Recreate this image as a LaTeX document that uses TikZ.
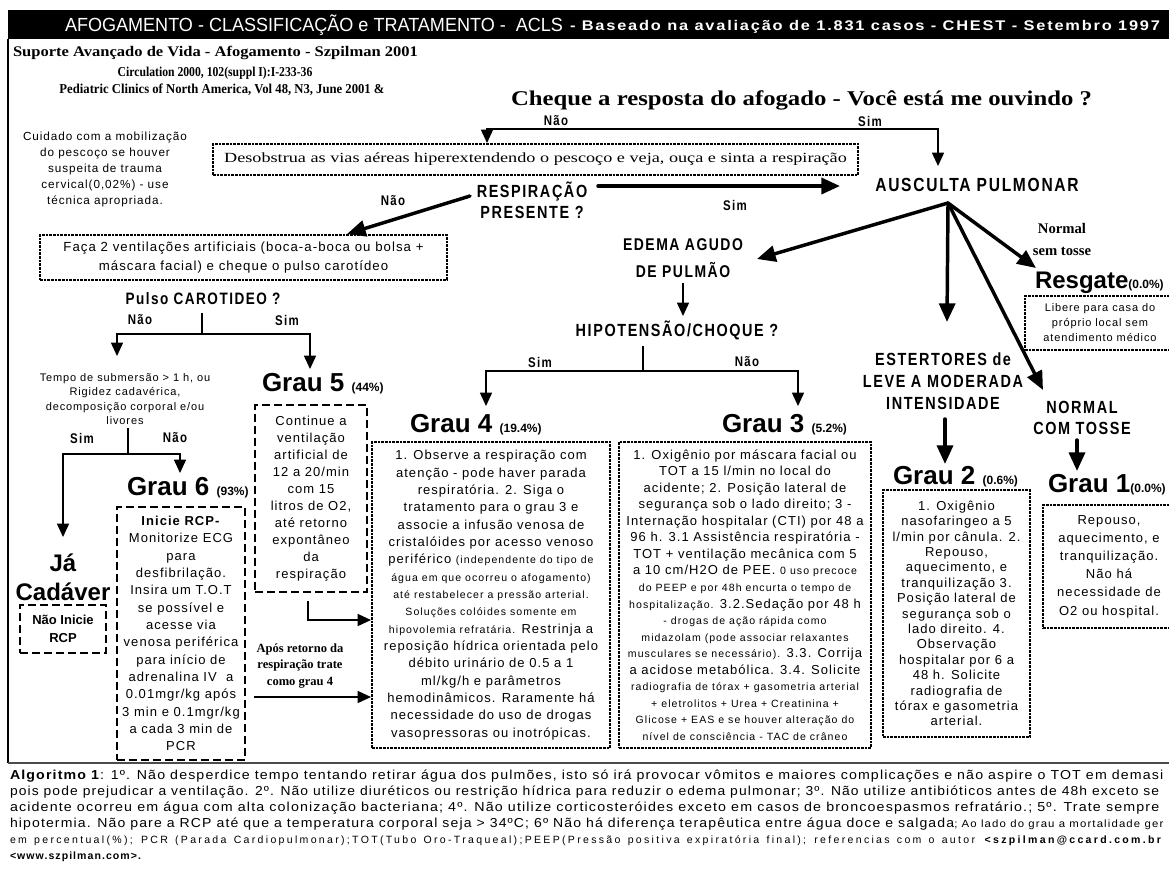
\documentclass[tikz,border=0pt]{standalone}
\usepackage{fontspec}
\usetikzlibrary{arrows.meta}
\setmainfont{Liberation Sans}
\newfontfamily\ars[LetterSpace=8]{Liberation Sans}
\newfontfamily\arsm[LetterSpace=10]{Liberation Sans}
\newfontfamily\arsw[LetterSpace=22]{Liberation Sans}
\newfontfamily\arn[FakeStretch=0.82,LetterSpace=9]{Liberation Sans}
\newfontfamily\tms{Liberation Serif}
\newfontfamily\tmn[FakeStretch=0.86]{Liberation Serif}
\newcommand\fs[2]{\fontsize{#1}{#2}\selectfont}
\newcommand\smf{\arsm\fontsize{7.9pt}{9pt}\selectfont}
\newcommand\pct[1]{{\fontsize{9pt}{10pt}\selectfont\bfseries #1}}
\tikzset{
  every node/.style={inner sep=0pt, outer sep=0pt},
  thinln/.style={line width=1.1pt},
  tarr/.style={line width=1.1pt, line cap=rect, -{Triangle[length=10pt,width=9pt]}},
  karr/.style={line width=2.6pt, line cap=round, -{Triangle[length=14pt,width=12pt]}},
  dotbox/.style={draw, line width=0.8pt, dash pattern=on 2pt off 0.75pt},
  dashbox/.style={draw, line width=1.5pt, dash pattern=on 6pt off 3pt},
  lab/.style={font=\arn\bfseries\fs{10.5}{12}},
  biglab/.style={align=center, font=\arn\bfseries\fs{12.75}{15}},
  grau/.style={anchor=west, font=\bfseries\fs{19.5}{22}},
  body/.style={align=center, font=\ars\fs{9.75}{13}},
}
\begin{document}
\begin{tikzpicture}[x=0.75pt,y=-0.75pt]
\useasboundingbox (0,0) rectangle (1169,876);
% title bar
\fill[black] (8,10) rectangle (1169,39);
\node[anchor=west, text=white] (title) at (65,25) {\resizebox{373.5pt}{\height}{\fs{14.25}{16}AFOGAMENTO - CLASSIFICAÇÃO e TRATAMENTO -\ \ ACLS}};
\node[anchor=west, text=white] (subt) at (570,26.5) {\resizebox{442.5pt}{\height}{\arn\bfseries\fs{10.5}{12}- Baseado na avaliação de 1.831 casos - CHEST - Setembro 1997}};
% frame
\draw[line width=0.8pt] (8,39) -- (8,763);
\draw[line width=1.5pt, black!70] (8,763) -- (1169,763);
% header left
\node[anchor=west] (sup) at (13,53) {\resizebox{303.75pt}{\height}{\tms\bfseries\fs{11}{13}Suporte Avançado de Vida - Afogamento - Szpilman 2001}};
\node (circ) at (215,73) {\tmn\bfseries\fs{10.2}{11}Circulation 2000, 102(suppl I):I-233-36};
\node (ped) at (222,90) {\resizebox{243.75pt}{\height}{\tmn\bfseries\fs{10.2}{11}Pediatric Clinics of North America, Vol 48, N3, June 2001 \&}};
% cheque
\node[anchor=west] (cheque) at (511,100) {\resizebox{435.75pt}{\height}{\tms\bfseries\fs{15.75}{18}Cheque a resposta do afogado - Você está me ouvindo ?}};
\node[lab] (nao0) at (556,121) {Não};
\node[lab] (sim0) at (870,121) {Sim};
\coordinate (c1) at (487,129);
\coordinate (c1t) at (487,143);
\coordinate (c2) at (938,129);
\coordinate (c2t) at (938,166);
\draw[thinln] (c1) -- (c2);
\draw[tarr] (c1) -- (c1t);
\draw[tarr] (c2) -- (c2t);
% cuidado
\node[align=center, font=\ars\fs{8.8}{12}] (cuid) at (105,169) {Cuidado com a mobilização\\do pescoço se houver\\suspeita de trauma\\cervical(0,02\%) - use\\técnica apropriada.};
% desobstrua
\node[dotbox, minimum width=483.75pt, minimum height=23.25pt] (desob) at (535.5,159.5) {\resizebox{467pt}{\height}{\tms\fs{10.5}{12}Desobstrua as vias aéreas hiperextendendo o pescoço e veja, ouça e sinta a respiração}};
% respiracao
\node[biglab, font=\arn\bfseries\fs{13.2}{15.75}] (respi) at (532,200.5) {RESPIRAÇÃO\\PRESENTE ?};
\node[lab] (naoR) at (393,201) {Não};
\node[lab] (simR) at (735,205) {Sim};
\coordinate (r1) at (470,196);
\coordinate (r1t) at (347,234);
\coordinate (r2) at (598,186);
\coordinate (r2t) at (840,186);
\draw[karr] (r1) -- (r1t);
\draw[karr] (r2) -- (r2t);
\node[font=\arn\bfseries\fs{14.25}{16}] (ausc) at (977,185) {AUSCULTA PULMONAR};
% faca
\node[dotbox, minimum width=305.25pt, minimum height=33.75pt, align=center, font=\ars\fs{9.9}{14.5}] (faca) at (243.5,257.5) {Faça 2 ventilações artificiais (boca-a-boca ou bolsa +\\máscara facial) e cheque o pulso carotídeo};
\node[font=\arn\bfseries\fs{12.4}{14}] (pulso) at (203,299) {Pulso CAROTIDEO ?};
\node[lab] (naoP) at (140,320) {Não};
\node[lab] (simP) at (287,320) {Sim};
\coordinate (p0) at (202,313);
\coordinate (p1) at (202,334);
\coordinate (pl) at (117,334);
\coordinate (pr) at (310,334);
\coordinate (plt) at (117,356);
\coordinate (prt) at (310,369);
\draw[thinln] (p0) -- (p1);
\draw[thinln] (pl) -- (pr);
\draw[tarr] (pl) -- (plt);
\draw[tarr] (pr) -- (prt);
% tempo
\node[align=center, font=\ars\fs{8.25}{10.7}] (tempo) at (125,399) {Tempo de submersão > 1 h, ou\\Rigidez cadavérica,\\decomposição corporal e/ou\\livores};
\node[lab] (simT) at (82,438) {Sim};
\node[lab] (naoT) at (175,438) {Não};
\coordinate (t0) at (128,428);
\coordinate (t1) at (128,454);
\coordinate (tl) at (63,454);
\coordinate (tr) at (180,454);
\coordinate (tlt) at (63,537);
\coordinate (trt) at (180,473);
\draw[thinln] (t0) -- (t1);
\draw[thinln] (tl) -- (tr);
\draw[tarr] (tl) -- (tlt);
\draw[tarr] (tr) -- (trt);
% grau 5
\node[grau] (g5t) at (262,384) {Grau 5 \pct{(44\%)}};
\node[dashbox, body, font=\ars\fs{9.75}{12.8}, minimum width=84pt, minimum height=140.25pt] (g5) at (311,498.5) {Continue a\\ventilação\\artificial de\\12 a 20/min\\com 15\\litros de O2,\\até retorno\\expontâneo\\da\\respiração};
% grau 6
\node[grau] (g6t) at (127,488) {Grau 6 \pct{(93\%)}};
\node[dashbox, body, font=\ars\fs{9.75}{13}, minimum width=96pt, minimum height=189.75pt] (g6) at (181,633.5) {\textbf{Inicie RCP-}\\Monitorize ECG\\para\\desfibrilação.\\Insira um T.O.T\\se possível e\\acesse via\\venosa periférica\\para início de\\adrenalina IV\ \ a\\0.01mgr/kg após\\3 min e 0.1mgr/kg\\a cada 3 min de\\PCR};
% ja cadaver
\node[align=center, font=\bfseries\fs{18}{22}] (ja) at (63,577) {Já\\Cadáver};
\node[dashbox, align=center, font=\bfseries\fs{9.75}{13.5}, minimum width=64.5pt, minimum height=36pt] (naoI) at (63,629) {Não Inicie\\RCP};
% apos
\node[align=center, font=\tms\bfseries\fs{9.4}{12.4}] (apos) at (300,666) {Após retorno da\\respiração trate\\como grau 4};
\coordinate (a0) at (308,601);
\coordinate (a1) at (308,620);
\coordinate (a1t) at (371,620);
\coordinate (b0) at (255,697);
\coordinate (b0t) at (371,697);
\draw[thinln] (a0) -- (a1);
\draw[tarr] (a1) -- (a1t);
\draw[tarr] (b0) -- (b0t);
% edema
\coordinate (fan) at (948,203);
\node[biglab, font=\arn\bfseries\fs{12.75}{20.25}] (edema) at (683,258.5) {EDEMA AGUDO\\DE PULMÃO};
\coordinate (e0) at (683,284);
\coordinate (e0t) at (683,316);
\draw[tarr] (e0) -- (e0t);
\node[font=\arn\bfseries\fs{13.2}{15}] (hipo) at (677,330) {HIPOTENSÃO/CHOQUE ?};
\node[lab] (simH) at (540,362) {Sim};
\node[lab] (naoH) at (747,362) {Não};
\coordinate (h0) at (643,346);
\coordinate (h1) at (643,371);
\coordinate (hl) at (486,371);
\coordinate (hr) at (798,371);
\coordinate (hlt) at (486,406);
\coordinate (hrt) at (798,406);
\draw[thinln] (h0) -- (h1);
\draw[thinln] (hl) -- (hr);
\draw[tarr] (hl) -- (hlt);
\draw[tarr] (hr) -- (hrt);
% grau 4
\node[grau] (g4t) at (410,425) {Grau 4 \pct{(19.4\%)}};
\node[dotbox, body, font=\ars\fs{9.75}{13}, minimum width=178.5pt, minimum height=229.5pt] (g4) at (491,595) {1. Observe a respiração com\\atenção - pode haver parada\\respiratória. 2. Siga o\\tratamento para o grau 3 e\\associe a infusão venosa de\\cristalóides por acesso venoso\\periférico {\smf (independente do tipo de}\\{\smf água em que ocorreu o afogamento)}\\{\smf até restabelecer a pressão arterial.}\\{\smf Soluções colóides somente em}\\{\smf hipovolemia refratária.} Restrinja a\\reposição hídrica orientada pelo\\débito urinário de 0.5 a 1\\ml/kg/h e parâmetros\\hemodinâmicos. Raramente há\\necessidade do uso de drogas\\vasopressoras ou inotrópicas.};
% grau 3
\node[grau] (g3t) at (722,425) {Grau 3 \pct{(5.2\%)}};
\node[dotbox, body, font=\ars\fs{9.75}{12.4}, minimum width=189pt, minimum height=229.5pt] (g3) at (745,595) {1. Oxigênio por máscara facial ou\\TOT a 15 l/min no local do\\acidente; 2. Posição lateral de\\segurança sob o lado direito; 3 -\\Internação hospitalar (CTI) por 48 a\\96 h. 3.1 Assistência respiratória -\\TOT + ventilação mecânica com 5\\a 10 cm/H2O de PEE. {\smf 0 uso precoce}\\{\smf do PEEP e por 48h encurta o tempo de}\\{\smf hospitalização.} 3.2.Sedação por 48 h\\{\smf - drogas de ação rápida como}\\{\smf midazolam (pode associar relaxantes}\\{\smf musculares se necessário).} 3.3. Corrija\\a acidose metabólica. 3.4. Solicite\\{\smf radiografia de tórax + gasometria arterial}\\{\smf + eletrolitos + Urea + Creatinina +}\\{\smf Glicose + EAS e se houver alteração do}\\{\smf nível de consciência - TAC de crâneo}};
% fan arrows
\coordinate (fe) at (757,259);
\coordinate (fs) at (947,322);
\coordinate (fr) at (1036,268);
\coordinate (fn) at (1043,390);
\draw[karr] (fan) -- (fe);
\draw[karr] (fan) -- (fs);
\draw[karr] (fan) -- (fr);
\draw[karr] (fan) -- (fn);
% estertores
\node[biglab, font=\arn\bfseries\fs{13.2}{16.5}] (ester) at (943,381) {ESTERTORES de\\LEVE A MODERADA\\INTENSIDADE};
\coordinate (s0) at (945,419);
\coordinate (s0t) at (945,464);
\draw[karr] (s0) -- (s0t);
\node[grau] (g2t) at (893,477) {Grau 2 \pct{(0.6\%)}};
\node[dotbox, body, font=\ars\fs{9.75}{11.55}, minimum width=110.25pt, minimum height=185.25pt] (g2) at (956.5,613.5) {1. Oxigênio\\nasofaringeo a 5\\l/min por cânula. 2.\\Repouso,\\aquecimento, e\\tranquilização 3.\\Posição lateral de\\segurança sob o\\lado direito. 4.\\Observação\\hospitalar por 6 a\\48 h. Solicite\\radiografia de\\tórax e gasometria\\arterial.};
% normal sem tosse / resgate
\node[align=center, font=\tms\bfseries\fs{11}{16.5}] (nst) at (1062,239) {Normal\\sem tosse};
\node[grau, font=\bfseries\fs{18}{20}] (rest) at (1035,283) {Resgate\pct{(0.0\%)}};
\node[dotbox, align=center, font=\ars\fs{8.25}{11.25}, minimum width=112.5pt, minimum height=40.5pt] (resg) at (1100,323) {Libere para casa do\\próprio local sem\\atendimento médico};
% normal com tosse
\node[biglab, font=\arn\bfseries\fs{13.2}{15.75}] (nct) at (1082,417.5) {NORMAL\\COM TOSSE};
\coordinate (n0) at (1077,440);
\coordinate (n0t) at (1077,471);
\draw[karr] (n0) -- (n0t);
\node[grau] (g1t) at (1048,485) {Grau 1\pct{(0.0\%)}};
\node[dotbox, body, font=\ars\fs{9.75}{13.65}, minimum width=99pt, minimum height=92.25pt] (g1) at (1109,566.5) {Repouso,\\aquecimento, e\\tranquilização.\\Não há\\necessidade de\\O2 ou hospital.};
% footer
\node[anchor=west] (f1) at (10,776) {\resizebox{865pt}{\height}{\ars\fs{9.75}{12}\textbf{Algoritmo 1}: 1º. Não desperdice tempo tentando retirar água dos pulmões, isto só irá provocar vômitos e maiores complicações e não aspire o TOT em demasi}};
\node[anchor=west] (f2) at (10,792) {\resizebox{862pt}{\height}{\ars\fs{9.75}{12}pois pode prejudicar a ventilação. 2º. Não utilize diuréticos ou restrição hídrica para reduzir o edema pulmonar; 3º. Não utilize antibióticos antes de 48h exceto se}};
\node[anchor=west] (f3) at (10,808) {\resizebox{862pt}{\height}{\ars\fs{9.75}{12}acidente ocorreu em água com alta colonização bacteriana; 4º. Não utilize corticosteróides exceto em casos de broncoespasmos refratário.; 5º. Trate sempre}};
\node[anchor=west] (f4) at (10,824) {\resizebox{865pt}{\height}{\ars\fs{9.75}{12}hipotermia. Não pare a RCP até que a temperatura corporal seja > 34ºC; 6º Não há diferença terapêutica entre água doce e salgada{\smf; Ao lado do grau a mortalidade ger}}};
\node[anchor=west] (f5) at (10,841) {\arsw\fontsize{7.9pt}{9pt}\selectfont\makebox[865pt][s]{em percentual(\%); PCR (Parada Cardiopulmonar);TOT(Tubo Oro-Traqueal);PEEP(Pressão positiva expiratória final); referencias com o autor \textbf{<szpilman@ccard.com.br}}};
\node[anchor=west] (f6) at (10,857) {\smf\textbf{<www.szpilman.com>.}};
\end{tikzpicture}
\end{document}
